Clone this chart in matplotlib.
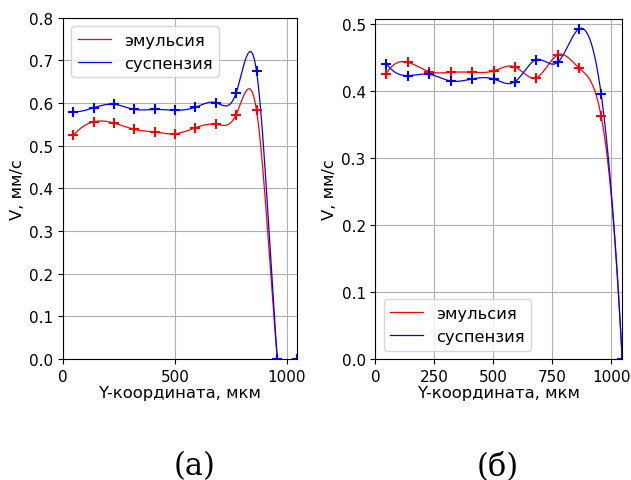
import numpy as np
import matplotlib.pyplot as plt

# координаты точек измерений, мкм
y_coord = [46, 137, 228, 319, 410, 501, 592, 683, 774, 865, 958, 1047]

# (а)
v_emul_a = [0.524, 0.556, 0.553, 0.538, 0.532, 0.528, 0.542, 0.550, 0.573, 0.583, 0.0, 0.0]
v_susp_a = [0.579, 0.589, 0.597, 0.585, 0.585, 0.583, 0.590, 0.601, 0.624, 0.675, 0.0, 0.0]

# (б)
v_emul_b = [0.426, 0.443, 0.429, 0.428, 0.428, 0.430, 0.436, 0.420, 0.454, 0.434, 0.362, 0.0]
v_susp_b = [0.441, 0.423, 0.425, 0.415, 0.418, 0.418, 0.414, 0.447, 0.443, 0.493, 0.395, 0.0]

labels = ['эмульсия', 'суспензия']


def spline(x, y, xs):
    # кубический сплайн с условием not-a-knot (как в scipy)
    x = np.asarray(x, float)
    y = np.asarray(y, float)
    n = len(x)
    h = np.diff(x)
    A = np.zeros((n, n))
    r = np.zeros(n)
    A[0, 0], A[0, 1], A[0, 2] = h[1], -(h[0] + h[1]), h[0]
    A[-1, -3], A[-1, -2], A[-1, -1] = h[-1], -(h[-2] + h[-1]), h[-2]
    for i in range(1, n - 1):
        A[i, i - 1] = h[i - 1]
        A[i, i] = 2 * (h[i - 1] + h[i])
        A[i, i + 1] = h[i]
        r[i] = 6 * ((y[i + 1] - y[i]) / h[i] - (y[i] - y[i - 1]) / h[i - 1])
    M = np.linalg.solve(A, r)
    k = np.clip(np.searchsorted(x, xs) - 1, 0, n - 2)
    hk = h[k]
    a = x[k + 1] - xs
    b = xs - x[k]
    return (M[k] * a**3 / (6 * hk) + M[k + 1] * b**3 / (6 * hk)
            + (y[k] / hk - M[k] * hk / 6) * a + (y[k + 1] / hk - M[k + 1] * hk / 6) * b)


fig = plt.figure(figsize=(6.31, 4.81), dpi=100)
ax1 = fig.add_axes([0.100, 0.252, 0.371, 0.709])
ax2 = fig.add_axes([0.595, 0.252, 0.391, 0.707])

xs = np.linspace(y_coord[0], y_coord[-1], 600)
fs = 11.8

for ax, ve, vs, loc, ylim in [(ax1, v_emul_a, v_susp_a, 'upper left', (0, 0.8)),
                              (ax2, v_emul_b, v_susp_b, 'lower left', (0, 0.508))]:
    ax.plot(xs, spline(y_coord, ve, xs), color='red', lw=0.9, label=labels[0])
    ax.plot(xs, spline(y_coord, vs, xs), color='blue', lw=0.9, label=labels[1])
    ax.plot(y_coord, ve, '+', color='red', ms=7, mew=1.5)
    ax.plot(y_coord, vs, '+', color='blue', ms=7, mew=1.5)
    ax.set_xlim(0, 1047)
    ax.set_ylim(*ylim)
    ax.grid(True)
    ax.set_xlabel('Y-координата, мкм', fontsize=fs, labelpad=1)
    ax.set_ylabel('V, мм/с', fontsize=fs, labelpad=3)
    ax.tick_params(labelsize=11)
    ax.legend(loc=loc, fontsize=fs)

ax1.set_xticks([0, 500, 1000])
ax1.set_yticks(np.arange(0, 0.81, 0.1))
ax2.set_xticks([0, 250, 500, 750, 1000])
ax2.set_yticks(np.arange(0, 0.51, 0.1))

fig.text(0.308, 0.013, '(а)', fontsize=22, family='DejaVu Serif', ha='center', va='baseline')
fig.text(0.789, 0.013, '(б)', fontsize=22, family='DejaVu Serif', ha='center', va='baseline')

fig.savefig('out.png', dpi=100)
